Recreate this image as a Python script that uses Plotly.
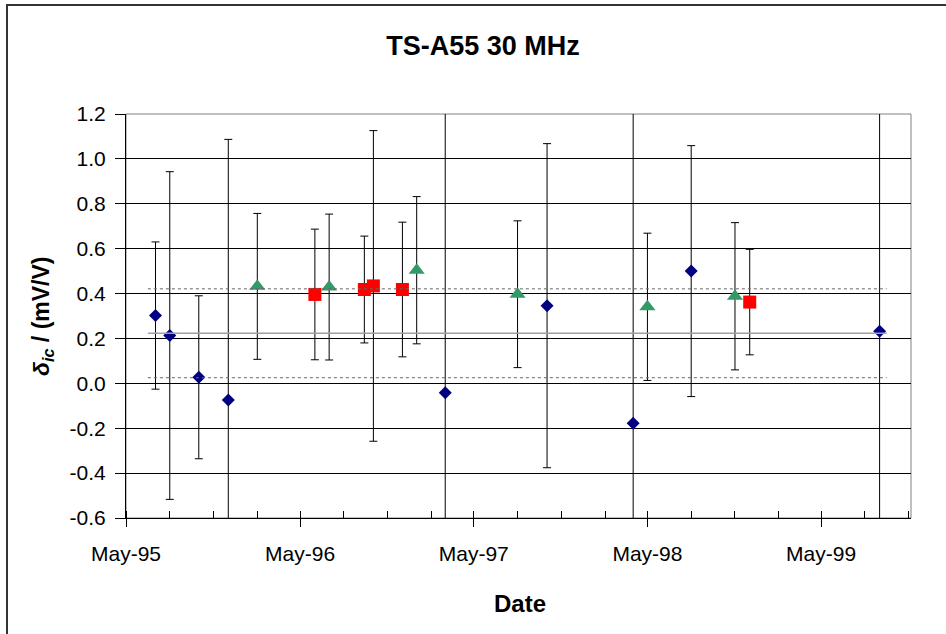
import plotly.graph_objects as go

# Measurement series (date, value, +/- uncertainty)
diamond_dates = ["1995-07-02", "1995-08-01", "1995-10-01", "1995-12-02", "1997-03-02",
                 "1997-10-02", "1998-04-01", "1998-08-01", "1999-09-01"]
diamond_vals = [0.302, 0.213, 0.027, -0.074, -0.042, 0.346, -0.178, 0.500, 0.232]
diamond_err = [0.328, 0.730, 0.363, 1.161, 1.300, 0.722, 1.450, 0.559, 1.100]

square_dates = ["1996-06-01", "1996-09-13", "1996-10-02", "1996-12-02", "1998-12-02"]
square_vals = [0.396, 0.418, 0.434, 0.418, 0.362]
square_err = [0.291, 0.238, 0.692, 0.300, 0.235]

triangle_dates = ["1996-02-01", "1996-07-01", "1997-01-01", "1997-08-01", "1998-05-01", "1998-11-01"]
triangle_vals = [0.432, 0.429, 0.504, 0.397, 0.341, 0.388]
triangle_err = [0.325, 0.325, 0.328, 0.327, 0.328, 0.328]

# Reference value and its band
ref_dates = ["1995-06-16", "1999-09-16"]
ref_mean = 0.223
ref_band = 0.198

y_ticks = [-0.6, -0.4, -0.2, 0.0, 0.2, 0.4, 0.6, 0.8, 1.0, 1.2]
y_labels = ["-0.6", "-0.4", "-0.2", "0.0", "0.2", "0.4", "0.6", "0.8", "1.0", "1.2"]
x_range = ["1995-05-01", "1999-11-06"]

FONT = "Liberation Sans, Arial, sans-serif"

# plot area in pixels
W, H = 946, 634
L, R, T, B = 126, 911, 114, 518
pw, ph = R - L, B - T


def px_x(p):
    return (p - L) / pw


def px_y(p):
    return (B - p) / ph


fig = go.Figure()

err_style = dict(type="data", thickness=1, width=4, color="black")

# reference lines
fig.add_trace(go.Scatter(x=ref_dates, y=[ref_mean] * 2, mode="lines", xaxis="x2",
                         line=dict(color="#a0a0a0", width=1.5), hoverinfo="skip"))
for s in (1, -1):
    fig.add_trace(go.Scatter(x=ref_dates, y=[ref_mean + s * ref_band] * 2, mode="lines",
                             xaxis="x2",
                             line=dict(color="#666666", width=1, dash="dot"), hoverinfo="skip"))

fig.add_trace(go.Scatter(x=diamond_dates, y=diamond_vals, mode="markers",
                         marker=dict(symbol="diamond", size=10, color="#000080"),
                         error_y=dict(array=diamond_err, **err_style)))
fig.add_trace(go.Scatter(x=triangle_dates, y=triangle_vals, mode="markers",
                         marker=dict(symbol="triangle-up", size=14, color="#339966"),
                         error_y=dict(array=triangle_err, **err_style)))
fig.add_trace(go.Scatter(x=square_dates, y=square_vals, mode="markers",
                         marker=dict(symbol="square", size=13, color="#ff0000"),
                         error_y=dict(array=square_err, **err_style)))

fig.update_layout(
    width=W, height=H,
    margin=dict(l=L, r=W - R, t=T, b=H - B),
    paper_bgcolor="white", plot_bgcolor="white",
    showlegend=False,
    font=dict(family=FONT, color="black"),
    title=dict(text="<b>TS-A55 30 MHz</b>", x=483 / W, xanchor="center",
               y=1 - 46 / H, yanchor="middle", font=dict(size=27, family=FONT)),
    xaxis=dict(
        type="date", range=x_range, tick0="1995-05-01", dtick="M12", tickformat="%b-%y",
        ticks="outside", ticklen=8, tickcolor="black", tickwidth=1,
        showline=True, linecolor="black", linewidth=1, showgrid=False, zeroline=False,
        tickfont=dict(size=21, family=FONT), ticklabelstandoff=9,
        minor=dict(dtick="M3", tick0="1995-05-01", ticks="inside", ticklen=7,
                   tickcolor="black", tickwidth=1, showgrid=False),
    ),
    xaxis2=dict(
        type="date", range=x_range, overlaying="x", matches="x", tick0="1995-05-01",
        dtick="M12", ticks="inside", ticklen=7, tickcolor="black", tickwidth=1,
        showticklabels=False, showline=False, showgrid=False, zeroline=False,
    ),
    yaxis=dict(
        range=[-0.6, 1.2], tickvals=y_ticks, ticktext=y_labels,
        ticks="outside", ticklen=10, tickcolor="black", tickwidth=1,
        showline=True, linecolor="black", linewidth=1,
        showgrid=True, gridcolor="black", gridwidth=1, zeroline=False,
        tickfont=dict(size=21, family=FONT), ticklabelstandoff=5,
    ),
    shapes=[
        # plot area frame
        dict(type="rect", xref="paper", yref="paper", x0=0, x1=1, y0=0, y1=1,
             line=dict(color="#808080", width=1), layer="below"),
        # chart border
        dict(type="rect", xref="paper", yref="paper",
             x0=px_x(7), x1=px_x(W + 5), y0=px_y(H + 5), y1=px_y(5),
             line=dict(color="#333333", width=2)),
    ],
    annotations=[
        dict(text="<b>Date</b>", xref="paper", yref="paper", x=px_x(520), y=px_y(603),
             xanchor="center", yanchor="middle", showarrow=False,
             font=dict(size=24, family=FONT)),
        dict(text="<b><i>δ<sub>ic</sub></i> / (mV/V)</b>", xref="paper", yref="paper",
             x=px_x(42), y=0.5, xanchor="center", yanchor="middle", textangle=-90,
             showarrow=False, font=dict(size=23, family=FONT)),
    ],
)

fig.write_html("out.html")
